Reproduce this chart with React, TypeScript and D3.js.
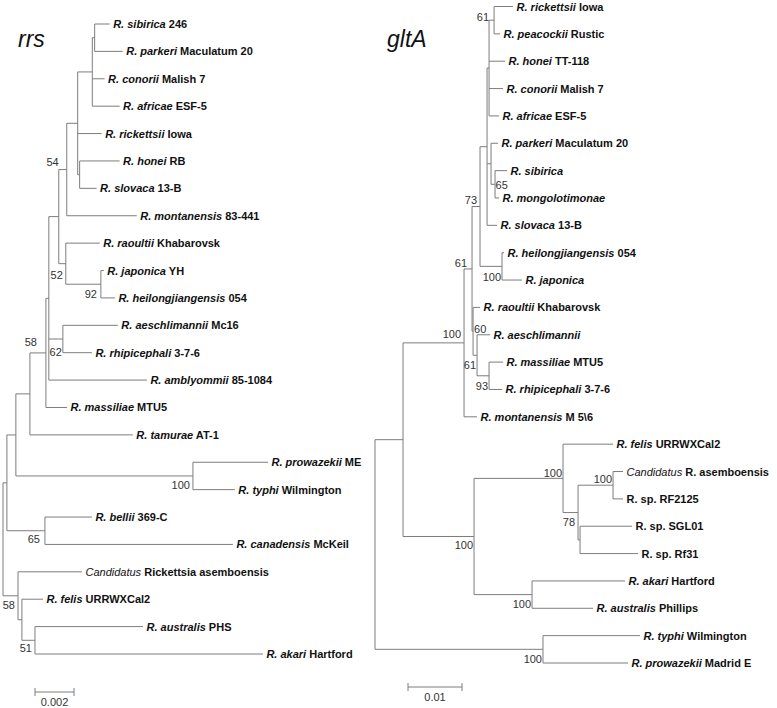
import React from 'react';
import * as d3 from 'd3';

type Branch = [string, string, number];
type Taxon = [string, string, string];

// ---------- rrs tree ----------
const rrsBranches: Branch[] = [
  ['root', '', 0],
  ['O', 'root', 0.0002],
  ['L', 'O', 0.00046],
  ['K', 'L', 0.00072],
  ['J', 'K', 0.00082],
  ['G', 'J', 0.00015],
  ['D', 'G', 0.00051],
  ['C', 'D', 0.00041],
  ['B', 'C', 0.00056],
  ['A', 'B', 0.00075],
  ['SP', 'A', 0.00012],
  ['sibirica', 'SP', 0.00077],
  ['parkeri', 'SP', 0.00144],
  ['conorii', 'A', 0.00063],
  ['africae', 'A', 0.0014],
  ['rickettsii', 'B', 0.00123],
  ['HS', 'B', 0.0001],
  ['honei', 'HS', 0.00205],
  ['slovaca', 'HS', 0.00087],
  ['montanensis', 'C', 0.00359],
  ['E', 'D', 0.00036],
  ['raoultii', 'E', 0.00174],
  ['F', 'E', 0.0018],
  ['japonica', 'F', 0.00015],
  ['heilongjiangensis', 'F', 0.00072],
  ['I', 'G', 0.00072],
  ['aeschlimannii', 'I', 0.00282],
  ['rhipicephali', 'I', 0.00149],
  ['amblyommii', 'G', 0.00503],
  ['massiliae', 'J', 0.00108],
  ['tamurae', 'K', 0.00528],
  ['M', 'L', 0.00908],
  ['prowazekii', 'M', 0.00385],
  ['typhi', 'M', 0.00215],
  ['N', 'O', 0.00195],
  ['bellii', 'N', 0.00241],
  ['canadensis', 'N', 0.00964],
  ['P', 'root', 0.00077],
  ['asemboensis', 'P', 0.00328],
  ['Q', 'P', 0.0002],
  ['felis', 'Q', 0.00108],
  ['R', 'Q', 0.00067],
  ['australis', 'R', 0.00554],
  ['akari', 'R', 0.01169],
];

const rrsTaxa: Taxon[] = [
  ['sibirica', 'R. sibirica', '246'],
  ['parkeri', 'R. parkeri', 'Maculatum 20'],
  ['conorii', 'R. conorii', 'Malish 7'],
  ['africae', 'R. africae', 'ESF-5'],
  ['rickettsii', 'R. rickettsii', 'Iowa'],
  ['honei', 'R. honei', 'RB'],
  ['slovaca', 'R. slovaca', '13-B'],
  ['montanensis', 'R. montanensis', '83-441'],
  ['raoultii', 'R. raoultii', 'Khabarovsk'],
  ['japonica', 'R. japonica', 'YH'],
  ['heilongjiangensis', 'R. heilongjiangensis', '054'],
  ['aeschlimannii', 'R. aeschlimannii', 'Mc16'],
  ['rhipicephali', 'R. rhipicephali', '3-7-6'],
  ['amblyommii', 'R. amblyommii', '85-1084'],
  ['massiliae', 'R. massiliae', 'MTU5'],
  ['tamurae', 'R. tamurae', 'AT-1'],
  ['prowazekii', 'R. prowazekii', 'ME'],
  ['typhi', 'R. typhi', 'Wilmington'],
  ['bellii', 'R. bellii', '369-C'],
  ['canadensis', 'R. canadensis', 'McKeil'],
  ['asemboensis', 'Candidatus', 'Rickettsia asemboensis'],
  ['felis', 'R. felis', 'URRWXCal2'],
  ['australis', 'R. australis', 'PHS'],
  ['akari', 'R. akari', 'Hartford'],
];

const rrsSupport: [string, number][] = [
  ['C', 54], ['E', 52], ['F', 92], ['I', 62], ['J', 58],
  ['M', 100], ['N', 65], ['P', 58], ['R', 51],
];

const rrsScaleBarValue = 0.002;

// ---------- gltA tree ----------
const gltABranches: Branch[] = [
  ['root', '', 0],
  ['N1', 'root', 0.00519],
  ['S', 'N1', 0.0113],
  ['T', 'S', 0.00148],
  ['A73', 'T', 0.00148],
  ['X', 'A73', 0.0013],
  ['Y1', 'X', 0.00037],
  ['RP', 'Y1', 0.00093],
  ['rickettsii', 'RP', 0.00352],
  ['peacockii', 'RP', 0.00111],
  ['honei', 'Y1', 0.00296],
  ['conorii', 'Y1', 0.00259],
  ['africae', 'Y1', 0.00185],
  ['PS', 'X', 0.00074],
  ['parkeri', 'PS', 0.0013],
  ['SM', 'PS', 0.00074],
  ['sibirica', 'SM', 0.00222],
  ['mongolotimonae', 'SM', 0.00074],
  ['slovaca', 'X', 0.00185],
  ['HJ', 'A73', 0.00407],
  ['heilongjiangensis', 'HJ', 0.00037],
  ['japonica', 'HJ', 0.0037],
  ['U', 'T', 0.00019],
  ['raoultii', 'U', 0.0013],
  ['V', 'U', 0.00074],
  ['aeschlimannii', 'V', 0.00241],
  ['MR', 'V', 0.00222],
  ['massiliae', 'MR', 0.00259],
  ['rhipicephali', 'MR', 0.00241],
  ['montanensis', 'S', 0.00241],
  ['N2', 'N1', 0.01315],
  ['TRA', 'N2', 0.01648],
  ['felis', 'TRA', 0.00926],
  ['Y78', 'TRA', 0.00278],
  ['CR', 'Y78', 0.00648],
  ['asemboensis', 'CR', 0.00185],
  ['RF2125', 'CR', 0.00185],
  ['SR', 'Y78', 0.00037],
  ['SGL01', 'SR', 0.00963],
  ['Rf31', 'SR', 0.01074],
  ['AA', 'N2', 0.01074],
  ['akari', 'AA', 0.01722],
  ['australis', 'AA', 0.0113],
  ['TP', 'root', 0.03111],
  ['typhi', 'TP', 0.01796],
  ['prowazekii', 'TP', 0.01574],
];

const gltATaxa: Taxon[] = [
  ['rickettsii', 'R. rickettsii', 'Iowa'],
  ['peacockii', 'R. peacockii', 'Rustic'],
  ['honei', 'R. honei', 'TT-118'],
  ['conorii', 'R. conorii', 'Malish 7'],
  ['africae', 'R. africae', 'ESF-5'],
  ['parkeri', 'R. parkeri', 'Maculatum 20'],
  ['sibirica', 'R. sibirica', ''],
  ['mongolotimonae', 'R. mongolotimonae', ''],
  ['slovaca', 'R. slovaca', '13-B'],
  ['heilongjiangensis', 'R. heilongjiangensis', '054'],
  ['japonica', 'R. japonica', ''],
  ['raoultii', 'R. raoultii', 'Khabarovsk'],
  ['aeschlimannii', 'R. aeschlimannii', ''],
  ['massiliae', 'R. massiliae', 'MTU5'],
  ['rhipicephali', 'R. rhipicephali', '3-7-6'],
  ['montanensis', 'R. montanensis', 'M 5\\6'],
  ['felis', 'R. felis', 'URRWXCal2'],
  ['asemboensis', 'Candidatus', 'R. asemboensis'],
  ['RF2125', '', 'R. sp. RF2125'],
  ['SGL01', '', 'R. sp. SGL01'],
  ['Rf31', '', 'R. sp. Rf31'],
  ['akari', 'R. akari', 'Hartford'],
  ['australis', 'R. australis', 'Phillips'],
  ['typhi', 'R. typhi', 'Wilmington'],
  ['prowazekii', 'R. prowazekii', 'Madrid E'],
];

const gltASupport: [string, number][] = [
  ['RP', 61], ['SM', 65], ['A73', 73], ['HJ', 100], ['T', 61], ['S', 100],
  ['U', 60], ['V', 61], ['MR', 93], ['TRA', 100], ['CR', 100], ['Y78', 78],
  ['N2', 100], ['AA', 100], ['TP', 100],
];

const gltAScaleBarValue = 0.01;

// ---------- layout (positions, not data) ----------
// label offsets: [dx, dy(center), anchor]
const rrsSupportPos: Record<string, [number, number, string]> = {
  C: [-8, -7.5, 'end'], E: [-3, 11, 'end'], F: [-4, 10, 'end'], I: [-1, 13, 'end'],
  J: [-9, -11, 'end'], M: [-3, 9, 'end'], N: [-5, 8, 'end'], P: [-3, 9, 'end'], R: [-3, 8, 'end'],
};
const gltASupportPos: Record<string, [number, number, string]> = {
  RP: [-5, -3, 'end'], SM: [0.5, 0.5, 'start'], A73: [-3, -6.5, 'end'], HJ: [-1, 10.5, 'end'],
  T: [-5, -6, 'end'], S: [-3, -9, 'end'], U: [1, -2, 'start'], V: [-1, 10, 'end'],
  MR: [-1, 10, 'end'], TRA: [-1, -5, 'end'], CR: [-1, -6, 'end'], Y78: [-3, 9.5, 'end'],
  N2: [-1, 9, 'end'], AA: [-1, 9.5, 'end'], TP: [-1, 10, 'end'],
};

const LINE = '#7d7d7d';
const FONT = '"Liberation Sans", Arial, sans-serif';

interface TreeProps {
  branches: Branch[];
  taxa: Taxon[];
  support: [string, number][];
  supportPos: Record<string, [number, number, string]>;
  x: d3.ScaleLinear<number, number>;
  y: d3.ScaleLinear<number, number>;
  title: string;
  titleX: number;
  scaleValue: number;
  scaleX: number;
  scaleY: number;
}

function Tree(p: TreeProps) {
  const root = d3
    .stratify<Branch>()
    .id((d) => d[0])
    .parentId((d) => d[1])(p.branches) as any;
  root.eachBefore((n: any) => {
    n.dist = n.parent ? n.parent.dist + n.data[2] : 0;
  });
  root.leaves().forEach((n: any, i: number) => {
    n.yy = p.y(i);
  });
  root.eachAfter((n: any) => {
    if (n.children) n.yy = (n.children[0].yy + n.children[n.children.length - 1].yy) / 2;
  });
  const nodes: any[] = root.descendants();
  const byId = new Map<string, any>(nodes.map((n) => [n.id, n]));
  const taxaMap = new Map<string, Taxon>(p.taxa.map((t) => [t[0], t]));

  const lines: JSX.Element[] = [];
  nodes.forEach((n, i) => {
    const nx = p.x(n.dist);
    if (n.children) {
      const c0 = n.children[0];
      const c1 = n.children[n.children.length - 1];
      lines.push(<line key={'v' + i} x1={nx} x2={nx} y1={c0.yy} y2={c1.yy} />);
    }
    if (n.parent) {
      lines.push(<line key={'h' + i} x1={p.x(n.parent.dist)} x2={nx} y1={n.yy} y2={n.yy} />);
    }
  });

  const scaleLen = p.x(p.scaleValue) - p.x(0);

  return (
    <g>
      <text x={p.titleX} y={47} fontFamily={FONT} fontStyle="italic" fontSize={23} fill="#111">
        {p.title}
      </text>
      <g stroke={LINE} strokeWidth={1} fill="none">{lines}</g>
      <g fontFamily={FONT} fontSize={11} fontWeight="bold" fill="#111">
        {root.leaves().map((n: any) => {
          const t = taxaMap.get(n.id)!;
          const isCand = t[1] === 'Candidatus';
          return (
            <text key={n.id} x={p.x(n.dist) + 3.5} y={n.yy + 4}>
              {t[1] && (
                <tspan fontStyle="italic" fontWeight={isCand ? 'normal' : 'bold'}>{t[1]}</tspan>
              )}
              {t[2] && <tspan>{(t[1] ? ' ' : '') + t[2]}</tspan>}
            </text>
          );
        })}
      </g>
      <g fontFamily={FONT} fontSize={11} fill="#333">
        {p.support.map(([id, v]) => {
          const n = byId.get(id);
          const [dx, dy, anchor] = p.supportPos[id];
          return (
            <text key={'s' + id} x={p.x(n.dist) + dx} y={n.yy + dy + 4} textAnchor={anchor}>
              {v}
            </text>
          );
        })}
      </g>
      <g stroke={LINE} strokeWidth={1}>
        <line x1={p.scaleX} x2={p.scaleX + scaleLen} y1={p.scaleY} y2={p.scaleY} />
        <line x1={p.scaleX} x2={p.scaleX} y1={p.scaleY - 4} y2={p.scaleY + 4} />
        <line x1={p.scaleX + scaleLen} x2={p.scaleX + scaleLen} y1={p.scaleY - 4} y2={p.scaleY + 4} />
      </g>
      <text
        x={p.scaleX + scaleLen / 2}
        y={p.scaleY + 14}
        textAnchor="middle"
        fontFamily={FONT}
        fontSize={11}
        fill="#333"
      >
        {String(p.scaleValue)}
      </text>
    </g>
  );
}

export default function App() {
  const xL = d3.scaleLinear().domain([0, 0.002]).range([3, 42]);
  const yL = d3.scaleLinear().domain([0, rrsTaxa.length - 1]).range([24, 654]);
  const xR = d3.scaleLinear().domain([0, 0.01]).range([375, 429]);
  const yR = d3.scaleLinear().domain([0, gltATaxa.length - 1]).range([6.5, 663]);
  return (
    <svg
      width={777}
      height={708}
      style={{ position: 'absolute', left: 0, top: 0, display: 'block', background: '#fff' }}
    >
      <rect width={777} height={708} fill="#fff" />
      <Tree
        branches={rrsBranches}
        taxa={rrsTaxa}
        support={rrsSupport}
        supportPos={rrsSupportPos}
        x={xL}
        y={yL}
        title="rrs"
        titleX={18}
        scaleValue={rrsScaleBarValue}
        scaleX={35}
        scaleY={692}
      />
      <Tree
        branches={gltABranches}
        taxa={gltATaxa}
        support={gltASupport}
        supportPos={gltASupportPos}
        x={xR}
        y={yR}
        title="gltA"
        titleX={387}
        scaleValue={gltAScaleBarValue}
        scaleX={408}
        scaleY={687}
      />
    </svg>
  );
}
